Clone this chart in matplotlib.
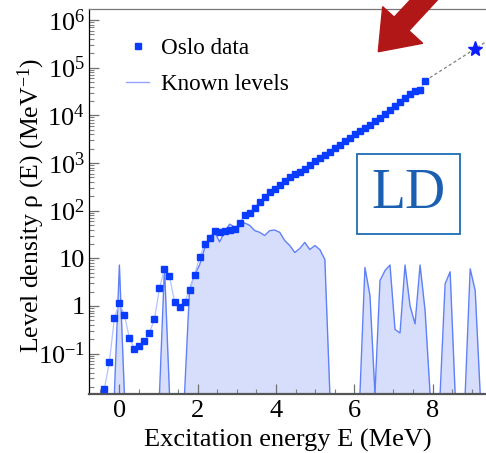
import numpy as np
import matplotlib
matplotlib.use('Agg')
import matplotlib.pyplot as plt
from matplotlib.patches import Polygon, Rectangle
from matplotlib.lines import Line2D
from matplotlib.ticker import FixedLocator, FixedFormatter, MultipleLocator, NullFormatter

plt.rcParams['font.family'] = ['Liberation Serif', 'DejaVu Serif']
plt.rcParams['mathtext.fontset'] = 'custom'
plt.rcParams['mathtext.rm'] = 'Liberation Serif'
plt.rcParams['mathtext.it'] = 'Liberation Serif:italic'

# ---------------- data ----------------
bin_width = 0.128          # MeV
oslo_start = -0.384        # energy of first Oslo bin (MeV)
oslo_rho = [0.018, 0.065, 0.56, 1.15, 0.65, 0.21, 0.126, 0.147, 0.18, 0.27,
            0.53, 2.35, 6.0, 4.2, 1.23, 0.95, 1.19, 2.13, 4.45, 10.4,
            19.6, 27, 37, 35, 38, 40, 42, 56, 79, 90,
            113, 155, 195, 250, 290, 350, 415, 515, 595, 650,
            760, 915, 1120, 1290, 1490, 1710, 2040, 2400, 2900, 3370,
            3980, 4700, 5450, 6300, 7450, 8850, 1.05e4, 1.3e4, 1.58e4, 1.9e4,
            2.3e4, 2.8e4, 3.2e4, 3.4e4, 5.3e4]

known_start = -0.768       # energy of first known-levels bin (MeV)
known_rho = [0, 0, 0, 0, 0, 0, 7.2, 0, 0, 0,
             0, 0, 0, 0, 0, 6.5, 0, 0, 0, 0,
             2.2, 4.5, 7.2, 16, 27, 36, 22, 36, 52, 45,
             46, 55, 49, 38, 35, 30, 38, 39, 35, 23.5,
             18.5, 13.2, 16, 21.5, 15.2, 18.5, 15.2, 9.4, 0, 0,
             0, 0, 0, 0, 0, 6.4, 1.65, 0, 3.4, 5.5,
             7.2, 0.32, 0.27, 7.2, 1.0, 0.42, 7.2, 0.8, 0, 0,
             0, 2.9, 5.2, 0, 0, 0, 6.0, 2.1, 0, 0]

sn_energy = 9.09           # neutron separation energy (MeV)
sn_rho = 2.5e5             # level density at Sn

ytick_values = [1e-1, 1, 10, 1e2, 1e3, 1e4, 1e5, 1e6]
ytick_labels = [r'$10^{-1}$', '1', '10', r'$10^{2}$', r'$10^{3}$',
                r'$10^{4}$', r'$10^{5}$', r'$10^{6}$']
xtick_values = [0, 2, 4, 6, 8]

# ---------------- figure ----------------
W, H = 486, 453
fig = plt.figure(figsize=(W / 100, H / 100), dpi=100)
ax = fig.add_axes([89 / W, 59 / H, 1 - 89 / W, (394 - 9.3) / H])

ymin, ymax = 0.01416, 1.677e6
xmin, xmax = -0.776, 9.364

oslo_E = oslo_start + bin_width * np.arange(len(oslo_rho))
known_E = known_start + bin_width * np.arange(len(known_rho))
known = np.asarray(known_rho, dtype=float)
known_plot = np.where(known > 0, known, ymin)

ax.set_yscale('log')
ax.set_xlim(xmin, xmax)
ax.set_ylim(ymin, ymax)

# known levels (filled)
ax.fill_between(known_E, known_plot, ymin, color='#d7defb', lw=0, zorder=1)
ax.plot(known_E, known_plot, color='#5f80f7', lw=1.0, zorder=2)

# Oslo data
ax.plot(oslo_E, oslo_rho, color='#b4c2ff', lw=0.9, zorder=3)
ax.plot(oslo_E, oslo_rho, ls='none', marker='s', ms=4.3, color='#0a3cff',
        mec='#0a3cff', zorder=4)

# extrapolation to Sn
slope = (np.log10(sn_rho) - np.log10(oslo_rho[-1])) / (sn_energy - oslo_E[-1])
ext_E = np.array([oslo_E[-1], sn_energy, xmax])
ext_rho = 10 ** (np.log10(oslo_rho[-1]) + slope * (ext_E - oslo_E[-1]))
ax.plot(ext_E, ext_rho, ls=(0, (2.5, 2)), color='#808080', lw=0.9, zorder=3)
ax.plot([sn_energy], [sn_rho], marker='*', ms=11, color='#0a1eff', ls='none',
        zorder=5)

# ticks
ax.yaxis.set_major_locator(FixedLocator(ytick_values))
ax.yaxis.set_major_formatter(FixedFormatter(ytick_labels))
minors = [m * 10.0 ** e for e in range(-2, 7) for m in range(2, 10)]
ax.yaxis.set_minor_locator(FixedLocator(minors))
ax.yaxis.set_minor_formatter(NullFormatter())
ax.xaxis.set_major_locator(FixedLocator(xtick_values))
ax.xaxis.set_minor_locator(MultipleLocator(0.5))
ax.tick_params(axis='both', which='major', direction='in', length=7.2,
               width=0.9, color='#707070', labelsize=19, pad=4)
ax.tick_params(axis='both', which='minor', direction='in', length=3.8,
               width=0.8, color='#808080')
ax.tick_params(axis='y', which='major', pad=3)

ax.spines['right'].set_visible(False)
ax.spines['left'].set_color('black')
ax.spines['left'].set_linewidth(0.9)
ax.spines['top'].set_color('#777777')
ax.spines['top'].set_linewidth(0.9)
ax.spines['bottom'].set_color('#555555')
ax.spines['bottom'].set_linewidth(1.6)

ax.set_xlabel('Excitation energy E (MeV)', fontsize=19, labelpad=5)
ax.set_ylabel(r'Level density ρ (E) (MeV$^{\mathregular{-1}}$)', fontsize=18.5)
ax.yaxis.set_label_coords(-0.105, 0.49)

# legend
handles = [Line2D([], [], ls='none', marker='s', ms=4.2, color='#0a3cff'),
           Line2D([], [], color='#8fa5ff', lw=1.0)]
leg = ax.legend(handles, ['Oslo data', 'Known levels'], loc='upper left',
                bbox_to_anchor=(126 / W, 1 - 37.5 / H), bbox_transform=fig.transFigure,
                frameon=False, fontsize=16.7, handlelength=1.0, handletextpad=0.5,
                labelspacing=0.65, borderaxespad=0, borderpad=0)

# LD box
ax.add_patch(Rectangle((357 / W, 1 - 234 / H), 103 / W, 80 / H,
                       transform=fig.transFigure, fill=False, ec='#1f6db8',
                       lw=1.3, zorder=6))
fig.text(408.5 / W, 1 - 194 / H, 'LD', color='#1a5fb0', fontsize=40,
         ha='center', va='center')

# red arrow
arrow_px = [(378.3, 51.7), (382.7, 6.7), (394.2, 17.2), (421.5, -12),
            (448.5, -12), (408.9, 30.7), (422.7, 43.3)]
fig.patches.append(Polygon([(x / W, 1 - y / H) for x, y in arrow_px],
                           closed=True, transform=fig.transFigure,
                           color='#b21717', zorder=10))

fig.savefig('out.png', dpi=100)
